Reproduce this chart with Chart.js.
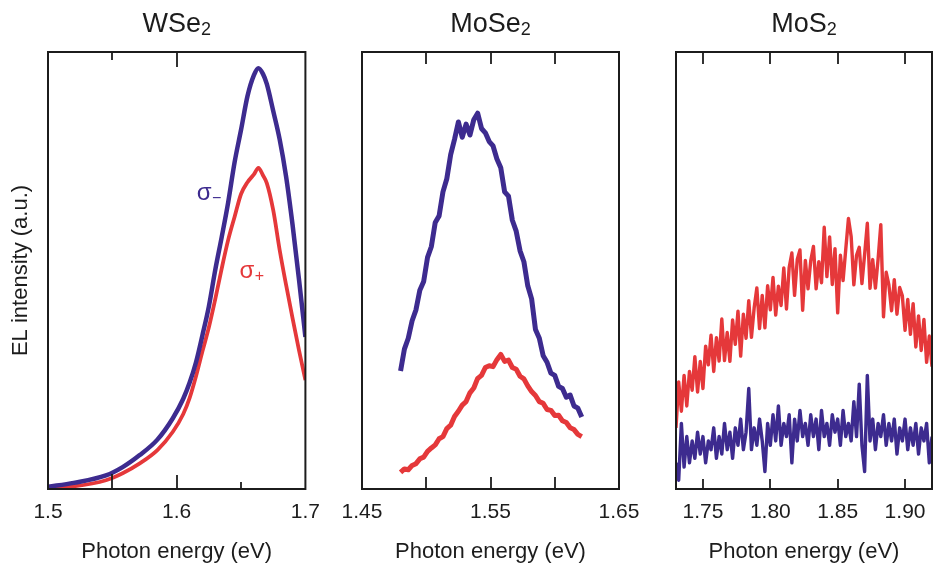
<!DOCTYPE html>
<html><head><meta charset="utf-8">
<script src="https://cdn.jsdelivr.net/npm/chart.js@4"></script>
<style>
html,body{margin:0;padding:0;background:#fff;}
#wrap{position:relative;width:933px;height:565px;overflow:hidden;background:#fff;}
.p{position:absolute;top:0;}
</style></head><body>
<div id="wrap">
<canvas class="p" id="c1" width="320" height="565" style="left:0px"></canvas>
<canvas class="p" id="c2" width="320" height="565" style="left:320px"></canvas>
<canvas class="p" id="c3" width="293" height="565" style="left:640px"></canvas>
</div>
<script>
// ---------------- DATA ----------------
const panelTitles = ['WSe', 'MoSe', 'MoS'];
const titleSubscript = '2';
const xAxisTitle = 'Photon energy (eV)';
const yAxisTitle = 'EL intensity (a.u.)';

// WSe2
const wse2Energy = [1.500,1.520,1.545,1.558,1.571,1.585,1.597,1.605,1.610,1.615,1.620,1.625,1.630,1.635,1.640,1.645,1.650,1.655,1.660,1.6635,1.667,1.670,1.675,1.680,1.685,1.690,1.695,1.700];
const wse2SigmaMinus = [0.5,1.4,3.1,5.0,7.7,11.3,16.2,20.6,24.3,29.0,35.2,41.8,50.2,57.7,65.6,74.8,82.2,89.9,94.7,96.3,95.0,92.7,86.5,80.0,71.5,60.5,48.0,34.8];
const wse2SigmaPlus  = [0.2,0.6,2.0,3.6,5.8,8.9,13.1,17.1,20.8,25.8,31.5,37.0,43.5,50.5,57.0,62.3,67.5,70.2,72.0,73.5,71.8,70.0,63.8,54.7,46.7,39.1,31.8,24.9];
const wse2TickLabels = [1.5, 1.6, 1.7];
const wse2TopMarks = [1.55, 1.6];
const wse2BottomMarks = [1.55, 1.6, 1.65];

// MoSe2
const mose2Energy = [1.480,1.483,1.486,1.489,1.492,1.495,1.498,1.501,1.504,1.507,1.510,1.513,1.516,1.519,1.522,1.525,1.528,1.531,1.534,1.537,1.540,1.543,1.546,1.549,1.552,1.555,1.558,1.561,1.564,1.567,1.570,1.573,1.576,1.579,1.582,1.585,1.588,1.591,1.594,1.597,1.600,1.603,1.606,1.609,1.612,1.615,1.618,1.621];
const mose2SigmaMinus = [27,32,34.5,38.5,41,45.5,47.5,53,55.5,61,62.5,68,71,76.5,80,84,80.5,83.5,81,84.5,86,82.5,81.5,79.5,78.5,75.5,73.5,68,67,61.5,59,54.5,52,46.5,43.5,36.5,34.5,30.5,29,26.5,26,23.5,23,21,21.5,19,18.5,16.5];
const mose2SigmaPlus  = [3.8,4.6,4.4,5.4,5.8,6.9,7.3,8.6,9.4,10.1,11.5,12.0,13.8,14.6,16.6,17.8,19.2,20.0,22.0,23.1,25.3,26.0,27.8,28.2,28.0,29.6,30.8,29.2,29.5,27.8,27.4,25.8,25.2,23.6,22.3,21.4,20.0,19.6,18.2,18.0,16.8,16.9,15.6,15.2,14.0,13.6,12.5,12.0];
const mose2TickLabels = [1.45, 1.55, 1.65];
const mose2Marks = [1.50, 1.55, 1.60];

// MoS2
const mos2Energy = [1.730,1.732,1.734,1.736,1.738,1.740,1.742,1.744,1.746,1.748,
  1.750,1.752,1.754,1.756,1.758,1.760,1.762,1.764,1.766,1.768,
  1.770,1.772,1.774,1.776,1.778,1.780,1.782,1.784,1.786,1.788,
  1.790,1.792,1.794,1.796,1.798,1.800,1.802,1.804,1.806,1.808,
  1.810,1.812,1.814,1.816,1.818,1.820,1.822,1.824,1.826,1.828,
  1.830,1.832,1.834,1.836,1.838,1.840,1.842,1.844,1.846,1.848,
  1.850,1.852,1.854,1.856,1.858,1.860,1.862,1.864,1.866,1.868,
  1.870,1.872,1.874,1.876,1.878,1.880,1.882,1.884,1.886,1.888,
  1.890,1.892,1.894,1.896,1.898,1.900,1.902,1.904,1.906,1.908,
  1.910,1.912,1.914,1.916,1.918,1.920];
const mos2SigmaPlus = [14,24.5,17.8,26,19,26.9,22.6,30.3,22.2,29.2,
  23,32.7,28.4,35.2,26.9,34.6,29.3,38.9,29.4,35.8,
  29.2,38.7,33.1,40.7,30.4,40,34.5,43.1,34.7,41.4,
  46,36.7,44.3,36.9,46.5,41,48.4,39.8,46.4,42,
  50.6,41.2,50.7,54,44.3,52.5,54.7,40.9,52.3,45.8,
  52.2,55.5,45.8,52,47.2,59.9,48.6,57.7,46.8,55,
  40.3,53.5,47.7,54.9,61.9,57.8,46.7,53.5,55.3,47,
  53.7,60.8,45.9,52.5,46,52.6,60.5,39.4,49.6,46.7,
  40.8,47.9,40,46.1,44.2,36.3,43.4,35.4,42.4,32.5,
  39.6,31.7,38.8,29,35,28];
const mos2SigmaMinus = [6,2,15,5,12,6,11,7,13,8,
  12,6,11,9,14,7,12,8,15,9,
  13,7,14,10,16,9,13,23,9,14,
  10,16,11,4,15,10,17,11,19,10,
  15,12,17,6,16,11,18,12,15,10,
  17,12,16,9,18,12,15,10,17,13,
  16,10,18,12,15,11,20,12,24,10,
  4,26,11,16,9,15,12,17,10,15,
  11,16,8,14,11,16,9,14,10,15,
  8,14,11,15,6,12];
const mos2TickLabels = [1.75, 1.80, 1.85, 1.90];
const mos2Marks = [1.75, 1.80, 1.85, 1.90];

// ---------------- STYLE ----------------
const BLUE = '#3d2b8f';
const RED = '#e5383a';
const INK = '#1c1c1c';
const FONT = "'Liberation Sans', Arial, Helvetica, sans-serif";

const framePlugin = {
  id: 'frame',
  afterDatasetsDraw(chart, args, o) {
    const {ctx, chartArea: a} = chart;
    const x = chart.scales.x, y = chart.scales.y;
    ctx.save();
    ctx.strokeStyle = INK;
    ctx.lineWidth = 2;
    ctx.strokeRect(a.left, a.top, a.right - a.left, a.bottom - a.top);
    ctx.lineWidth = 1.8;
    ctx.beginPath();
    (o.top || []).forEach(m => {
      const px = Math.round(x.getPixelForValue(m.v));
      ctx.moveTo(px, a.top); ctx.lineTo(px, a.top + m.len);
    });
    (o.bottom || []).forEach(m => {
      const px = Math.round(x.getPixelForValue(m.v));
      ctx.moveTo(px, a.bottom); ctx.lineTo(px, a.bottom - m.len);
    });
    ctx.stroke();
    (o.labels || []).forEach(l => {
      const px = x.getPixelForValue(l.x), py = y.getPixelForValue(l.y);
      ctx.fillStyle = l.color;
      ctx.textBaseline = 'alphabetic';
      ctx.textAlign = 'left';
      ctx.font = '24px ' + FONT;
      ctx.fillText(l.text, px, py);
      const w = ctx.measureText(l.text).width;
      ctx.font = '16px ' + FONT;
      ctx.fillText(l.sub, px + w + 0.5, py + 3);
    });
    ctx.restore();
  },
  afterDraw(chart, args, o) {
    const {ctx, chartArea: a} = chart;
    ctx.save();
    ctx.fillStyle = INK;
    ctx.textBaseline = 'alphabetic';
    ctx.textAlign = 'left';
    ctx.font = '27px ' + FONT;
    const w1 = ctx.measureText(o.title).width;
    ctx.font = '18px ' + FONT;
    const w2 = ctx.measureText(titleSubscript).width;
    const cx = (a.left + a.right) / 2;
    const x0 = cx - (w1 + w2) / 2;
    ctx.font = '27px ' + FONT;
    ctx.fillText(o.title, x0, 32);
    ctx.font = '18px ' + FONT;
    ctx.fillText(titleSubscript, x0 + w1, 35);
    ctx.restore();
  }
};

function pts(xs, ys) { return xs.map((v, i) => ({x: v, y: ys[i]})); }

function makeChart(id, cfg) {
  const datasets = [
    {data: pts(cfg.energy, cfg.minus), borderColor: BLUE, borderWidth: cfg.lw, pointRadius: 0,
     cubicInterpolationMode: cfg.smooth ? 'monotone' : 'default', tension: 0, fill: false,
     borderJoinStyle: 'round'},
    {data: pts(cfg.energy, cfg.plus), borderColor: RED, borderWidth: cfg.lw2 || cfg.lw, pointRadius: 0,
     cubicInterpolationMode: cfg.smooth ? 'monotone' : 'default', tension: 0, fill: false,
     borderJoinStyle: 'round'}
  ];
  return new Chart(document.getElementById(id), {
    type: 'line',
    data: {datasets},
    options: {
      responsive: false,
      animation: false,
      devicePixelRatio: 1,
      layout: {padding: {top: 52, left: 0, right: cfg.padRight, bottom: 0}},
      plugins: {
        legend: {display: false},
        tooltip: {enabled: false},
        title: {display: false},
        frame: {title: cfg.title, top: cfg.top, bottom: cfg.bottom, labels: cfg.labels || []}
      },
      scales: {
        x: {
          type: 'linear', min: cfg.xmin, max: cfg.xmax,
          afterBuildTicks: s => { s.ticks = cfg.tickLabels.map(v => ({value: v})); },
          afterFit: s => { s.height = 76; },
          grid: {display: false, drawTicks: true, tickLength: 11},
          border: {display: false},
          ticks: {padding: 0, color: INK, font: {family: FONT, size: 21}, maxRotation: 0, autoSkip: false,
                  callback: v => v.toFixed(cfg.decimals)},
          title: {display: true, text: xAxisTitle, color: INK, font: {family: FONT, size: 22}, padding: {top: 0, bottom: 0}}
        },
        y: {
          display: true, min: 0, max: 100,
          afterFit: s => { s.width = cfg.yWidth; },
          grid: {display: false, drawTicks: false},
          border: {display: false},
          ticks: {display: false},
          title: {display: cfg.showY, text: yAxisTitle, color: INK, font: {family: FONT, size: 22}, padding: {top: 8, bottom: 0}}
        }
      }
    },
    plugins: [framePlugin]
  });
}

makeChart('c1', {
  energy: wse2Energy, minus: wse2SigmaMinus, plus: wse2SigmaPlus, lw: 4.5, lw2: 3.8, smooth: true,
  xmin: 1.5, xmax: 1.7, tickLabels: wse2TickLabels, decimals: 1,
  yWidth: 48, padRight: 14, showY: true, title: panelTitles[0],
  top: wse2TopMarks.map((v, i) => ({v, len: [8, 15][i]})),
  bottom: wse2BottomMarks.map((v, i) => ({v, len: [15, 14, 7][i]})),
  labels: [
    {text: 'σ', sub: '−', x: 1.6155, y: 66.1, color: BLUE},
    {text: 'σ', sub: '+', x: 1.6488, y: 48.3, color: RED}
  ]
});

makeChart('c2', {
  energy: mose2Energy, minus: mose2SigmaMinus, plus: mose2SigmaPlus, lw: 5, smooth: false,
  xmin: 1.45, xmax: 1.65, tickLabels: mose2TickLabels, decimals: 2,
  yWidth: 42, padRight: 21, showY: false, title: panelTitles[1],
  top: mose2Marks.map(v => ({v, len: 12})),
  bottom: mose2Marks.map(v => ({v, len: 12}))
});

makeChart('c3', {
  energy: mos2Energy, minus: mos2SigmaMinus, plus: mos2SigmaPlus, lw: 3.4, smooth: false,
  xmin: 1.73, xmax: 1.92, tickLabels: mos2TickLabels, decimals: 2,
  yWidth: 36, padRight: 1, showY: false, title: panelTitles[2],
  top: mos2Marks.map(v => ({v, len: 12})),
  bottom: mos2Marks.map(v => ({v, len: 10}))
});
</script>
</body></html>
